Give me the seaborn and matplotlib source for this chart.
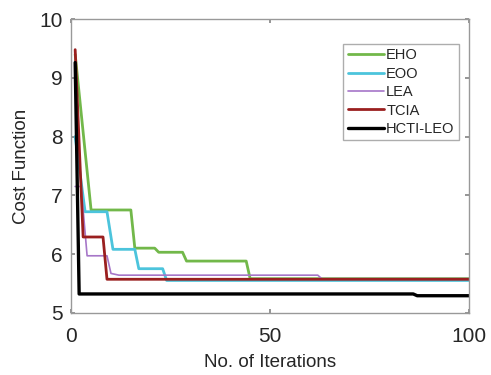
import matplotlib
matplotlib.use("Agg")
import matplotlib.pyplot as plt
import seaborn as sns
import pandas as pd

sns.set_theme(style="white")
plt.rcParams['font.family'] = ['Liberation Sans', 'DejaVu Sans']

# Data: change points of each convergence curve (iteration, cost)
eho_x = [1, 5, 15, 16, 21, 22, 28, 29, 44, 45, 100]
eho_y = [9.40, 6.75, 6.75, 6.10, 6.10, 6.03, 6.03, 5.88, 5.88, 5.58, 5.58]

eoo_x = [1, 3.5, 9, 10.5, 16, 17, 23, 24, 100]
eoo_y = [8.00, 6.72, 6.72, 6.08, 6.08, 5.75, 5.75, 5.55, 5.55]

lea_x = [1, 2.5, 4, 9, 10, 12, 62, 63, 100]
lea_y = [7.15, 7.15, 5.97, 5.97, 5.67, 5.64, 5.64, 5.58, 5.58]

tcia_x = [1, 3, 8, 9, 100]
tcia_y = [9.48, 6.29, 6.29, 5.57, 5.57]

hcti_x = [1, 2, 86, 87, 100]
hcti_y = [9.26, 5.32, 5.32, 5.29, 5.29]

names = ["EHO", "EOO", "LEA", "TCIA", "HCTI-LEO"]
colors = ["#72B84A", "#4CC4DC", "#A676C8", "#9A1F1F", "#000000"]
widths = [2.0, 2.0, 1.2, 2.0, 2.4]
series = [(eho_x, eho_y), (eoo_x, eoo_y), (lea_x, lea_y), (tcia_x, tcia_y), (hcti_x, hcti_y)]

fig = plt.figure(figsize=(4.91, 3.75), dpi=100)
ax = fig.add_axes([0.145, 0.166, 0.810, 0.783])

for name, (xs, ys), c, w in zip(names, series, colors, widths):
    df = pd.DataFrame({"Iteration": xs, "Cost": ys})
    sns.lineplot(data=df, x="Iteration", y="Cost", ax=ax, color=c, linewidth=w,
                 sort=False, estimator=None, label=name)

ax.set_xlim(0, 100)
ax.set_ylim(5, 10)
ax.set_xticks([0, 50, 100])
ax.set_yticks([5, 6, 7, 8, 9, 10])
ax.tick_params(direction="in", length=3, labelsize=15, color="#888888",
               labelcolor="#262626",
               top=True, right=True, bottom=True, left=True)
ax.tick_params(axis="x", pad=10)
ax.tick_params(axis="y", pad=6)
for s in ax.spines.values():
    s.set_color("#999999")
    s.set_linewidth(1.0)
ax.set_xlabel("No. of Iterations", fontsize=13.5, labelpad=6, color="#262626")
ax.set_ylabel("Cost Function", fontsize=13.5, labelpad=7, color="#262626")

leg = ax.legend(loc="upper right", bbox_to_anchor=(0.975, 0.915), fontsize=10.5,
                frameon=True, fancybox=False, edgecolor="#999999",
                handlelength=2.5, handletextpad=0.15, labelspacing=0.3,
                borderpad=0.3, borderaxespad=0.0)
leg.get_frame().set_linewidth(1.0)

fig.savefig("out.png", dpi=100)
